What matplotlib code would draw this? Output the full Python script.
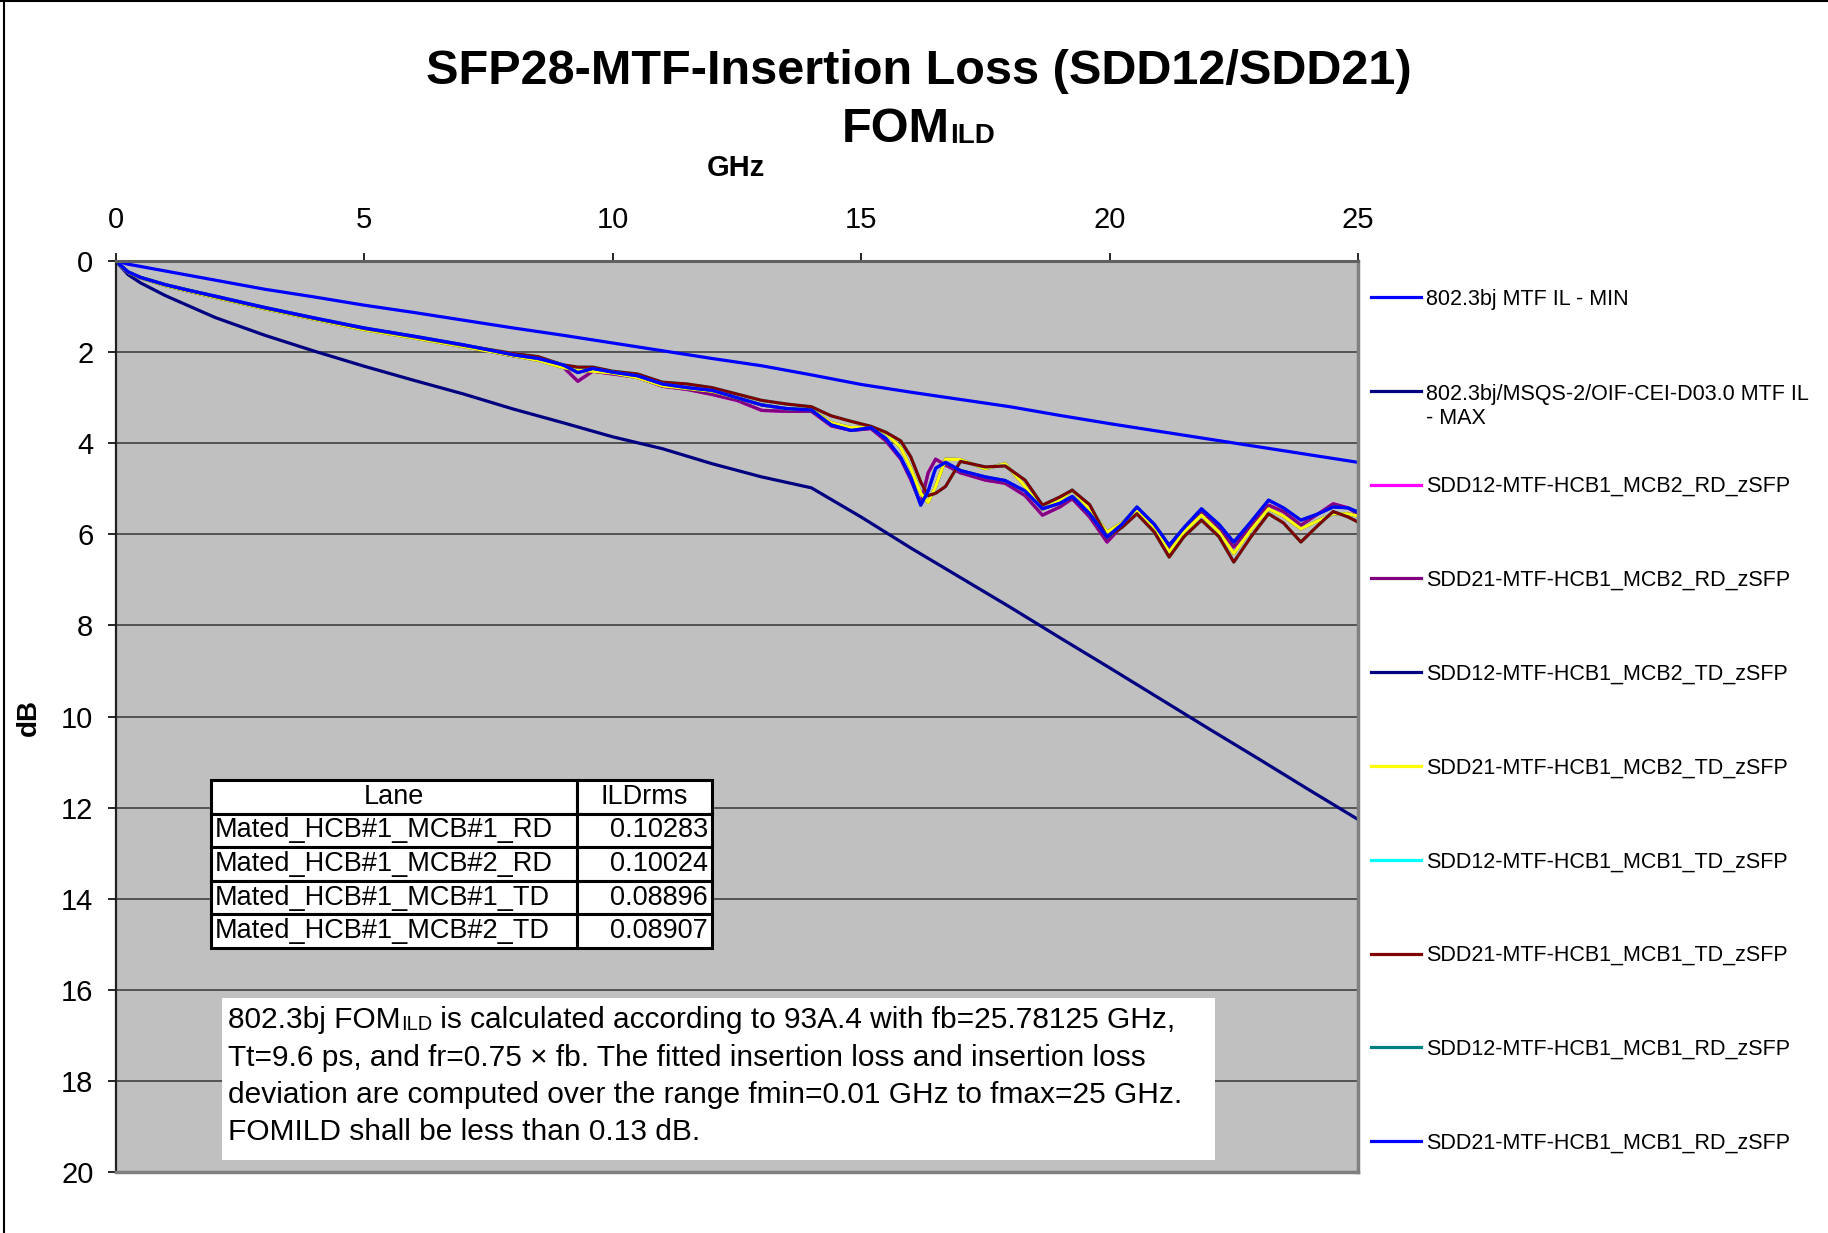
import matplotlib
matplotlib.use('Agg')
import matplotlib.pyplot as plt
from matplotlib.lines import Line2D
from matplotlib.patches import Rectangle
from matplotlib.text import Annotation

plt.rcParams['font.family'] = ['Liberation Sans', 'DejaVu Sans']

W, H = 1828, 1233

# 802.3bj MTF insertion loss limits (dB)
limit_freq = [0, 0.25, 0.5, 1, 2, 3, 4, 5, 6, 7, 8, 9, 10, 11, 12, 13, 14,
              15, 16, 17, 18, 19, 20, 21, 22, 23, 24, 25]
il_min = [0, 0.07, 0.12, 0.22, 0.42, 0.62, 0.79, 0.97, 1.13, 1.30, 1.47, 1.63,
          1.80, 1.97, 2.14, 2.30, 2.50, 2.71, 2.88, 3.04, 3.20, 3.39, 3.57,
          3.74, 3.91, 4.08, 4.25, 4.42]
il_max = [0, 0.30, 0.48, 0.76, 1.24, 1.63, 1.98, 2.31, 2.62, 2.92, 3.25, 3.55,
          3.86, 4.12, 4.45, 4.74, 4.98, 5.62, 6.30, 6.95, 7.60, 8.27, 8.93,
          9.60, 10.27, 10.93, 11.60, 12.26]

# measured mated MTF traces (SDD12 and SDD21 of a lane overlap on the chart)
meas_freq = [0, 0.25, 0.5, 1, 1.5, 2, 3, 4, 5, 6, 7,
             8, 8.5, 9, 9.3, 9.6, 10, 10.5, 11, 11.5, 12, 12.5, 13, 13.5, 14,
             14.4, 14.8, 15.2, 15.5, 15.8,
             16.0, 16.2, 16.35, 16.5, 16.7, 17.0,
             17.5, 17.9, 18.3, 18.65, 19.0, 19.25, 19.6, 19.95, 20.25, 20.55,
             20.9, 21.2, 21.5, 21.85, 22.2, 22.5, 22.85, 23.2, 23.5, 23.85,
             24.2, 24.5, 24.8, 25.0]
mcb1_rd = [0, 0.24, 0.36, 0.52, 0.65, 0.77, 1.02, 1.25, 1.47, 1.65, 1.84,
           2.06, 2.14, 2.28, 2.45, 2.36, 2.44, 2.52, 2.70, 2.78, 2.84, 3.00, 3.16, 3.24, 3.27,
           3.60, 3.72, 3.66, 3.90, 4.32,
           4.75, 5.36, 5.05, 4.55, 4.42, 4.60,
           4.74, 4.82, 5.05, 5.44, 5.32, 5.17, 5.55, 6.06, 5.78, 5.40,
           5.78, 6.24, 5.85, 5.44, 5.78, 6.17, 5.72, 5.25, 5.42, 5.69,
           5.55, 5.40, 5.42, 5.51]
mcb2_rd = [0, 0.25, 0.37, 0.53, 0.67, 0.79, 1.04, 1.27, 1.49, 1.67, 1.87,
           2.08, 2.16, 2.32, 2.64, 2.42, 2.48, 2.55, 2.75, 2.82, 2.93, 3.06, 3.28, 3.30, 3.30,
           3.62, 3.72, 3.68, 3.95, 4.35,
           4.80, 5.33, 4.65, 4.35, 4.48, 4.65,
           4.81, 4.88, 5.15, 5.58, 5.40, 5.22, 5.62, 6.17, 5.82, 5.45,
           5.85, 6.30, 5.90, 5.50, 5.85, 6.28, 5.80, 5.36, 5.50, 5.80,
           5.55, 5.33, 5.42, 5.55]
mcb2_td = [0, 0.25, 0.37, 0.54, 0.67, 0.80, 1.05, 1.28, 1.51, 1.69, 1.88,
           2.08, 2.18, 2.34, 2.40, 2.42, 2.46, 2.56, 2.74, 2.80, 2.86, 3.00, 3.16, 3.24, 3.26,
           3.55, 3.66, 3.64, 3.78, 4.10,
           4.55, 5.10, 5.30, 4.95, 4.35, 4.36,
           4.56, 4.45, 4.95, 5.45, 5.25, 5.03, 5.45, 5.95, 5.75, 5.47,
           5.85, 6.39, 5.95, 5.58, 5.95, 6.42, 5.90, 5.44, 5.60, 5.88,
           5.70, 5.55, 5.55, 5.60]
mcb1_td = [0, 0.24, 0.36, 0.52, 0.65, 0.78, 1.03, 1.26, 1.48, 1.66, 1.85,
           2.03, 2.10, 2.28, 2.33, 2.33, 2.42, 2.48, 2.66, 2.70, 2.78, 2.92, 3.06, 3.14, 3.20,
           3.40, 3.52, 3.63, 3.76, 3.95,
           4.30, 4.85, 5.15, 5.10, 4.95, 4.40,
           4.52, 4.50, 4.81, 5.36, 5.18, 5.03, 5.35, 6.06, 5.85, 5.55,
           5.95, 6.50, 6.05, 5.69, 6.05, 6.61, 6.05, 5.55, 5.75, 6.17,
           5.80, 5.50, 5.62, 5.73]

series = [
    ('802.3bj MTF IL - MIN', limit_freq, il_min, '#0000FF'),
    ('802.3bj/MSQS-2/OIF-CEI-D03.0 MTF IL\n- MAX', limit_freq, il_max, '#000080'),
    ('SDD12-MTF-HCB1_MCB2_RD_zSFP', meas_freq, mcb2_rd, '#FF00FF'),
    ('SDD21-MTF-HCB1_MCB2_RD_zSFP', meas_freq, mcb2_rd, '#800080'),
    ('SDD12-MTF-HCB1_MCB2_TD_zSFP', meas_freq, mcb2_td, '#000080'),
    ('SDD21-MTF-HCB1_MCB2_TD_zSFP', meas_freq, mcb2_td, '#FFFF00'),
    ('SDD12-MTF-HCB1_MCB1_TD_zSFP', meas_freq, mcb1_td, '#00FFFF'),
    ('SDD21-MTF-HCB1_MCB1_TD_zSFP', meas_freq, mcb1_td, '#800000'),
    ('SDD12-MTF-HCB1_MCB1_RD_zSFP', meas_freq, mcb1_rd, '#008080'),
    ('SDD21-MTF-HCB1_MCB1_RD_zSFP', meas_freq, mcb1_rd, '#0000FF'),
]

lanes = ['Mated_HCB#1_MCB#1_RD', 'Mated_HCB#1_MCB#2_RD',
         'Mated_HCB#1_MCB#1_TD', 'Mated_HCB#1_MCB#2_TD']
ild_rms = ['0.10283', '0.10024', '0.08896', '0.08907']

note_lines = ['Tt=9.6 ps, and fr=0.75 \u00d7 fb. The fitted insertion loss and insertion loss',
              'deviation are computed over the range fmin=0.01 GHz to fmax=25 GHz.',
              'FOMILD shall be less than 0.13 dB.']


def fx(x):
    return x / W


def fy(y):
    return 1 - y / H


fig = plt.figure(figsize=(W / 100, H / 100), dpi=100)
fig.patch.set_facecolor('white')

# plot area in pixels: x 115.7..1358, y 261..1172
ax_l, ax_r, ax_t, ax_b = 115.7, 1358.0, 261.0, 1172.0
ax = fig.add_axes([fx(ax_l), fy(ax_b), (ax_r - ax_l) / W, (ax_b - ax_t) / H])
ax.set_facecolor('#C0C0C0')


def axx(px):
    return (px - ax_l) / (ax_r - ax_l)


def axy(py):
    return (ax_b - py) / (ax_b - ax_t)


for label, xs, ys, color in series:
    ax.plot(xs, ys, color=color, lw=2.3, solid_joinstyle='round')

ax.set_xlim(0, 25)
ax.set_ylim(20, 0)
ax.set_xticks([0, 5, 10, 15, 20, 25])
ax.set_yticks(range(0, 21, 2))
ax.xaxis.tick_top()
ax.tick_params(axis='x', length=6, width=1.2, pad=13.5, labelsize=21)
ax.tick_params(axis='y', length=6, width=1.2, pad=10, labelsize=21)
ax.yaxis.grid(True, color='#404040', lw=1.2)
ax.set_axisbelow(True)
ax.spines['left'].set_color('#202020')
ax.spines['left'].set_linewidth(1.6)
ax.spines['top'].set_color('#606060')
ax.spines['top'].set_linewidth(2.2)
for s in ['right', 'bottom']:
    ax.spines[s].set_color('#808080')
    ax.spines[s].set_linewidth(2.5)

# ILD table
tab = ax.table(cellText=[[l, v] for l, v in zip(lanes, ild_rms)],
               colLabels=['Lane', 'ILDrms'],
               colWidths=[0.7305, 0.2695],
               bbox=[axx(211), axy(948), axx(712) - axx(211), axy(780) - axy(948)],
               zorder=6)
tab.auto_set_font_size(False)
tab.set_fontsize(19.5)
for (r, c), cell in tab.get_celld().items():
    cell.set_facecolor('white')
    cell.set_edgecolor('black')
    cell.set_linewidth(2.2)
    if r == 0:
        cell._loc = 'center'
    elif c == 0:
        cell._loc = 'left'
        cell.PAD = 0.010
    else:
        cell._loc = 'right'
        cell.PAD = 0.03
    cell.get_text().set_ha(cell._loc)

# note box
ax.add_patch(Rectangle((axx(221.5), axy(1160)), axx(1215) - axx(221.5), axy(998) - axy(1160),
                       transform=ax.transAxes, facecolor='white', edgecolor='none', zorder=6))
p1 = ax.text(axx(228.5), axy(1028), '802.3bj FOM', transform=ax.transAxes,
             fontsize=21.5, va='baseline', ha='left', zorder=7)
p2 = ax.annotate('ILD', xy=(1, 0), xycoords=p1, fontsize=14.5, va='bottom', ha='left', zorder=7)
ax.annotate(' is calculated according to 93A.4 with fb=25.78125 GHz,', xy=(1, 0), xycoords=p2,
            fontsize=21.5, va='bottom', ha='left', zorder=7)
for i, line in enumerate(note_lines):
    ax.text(axx(228.5), axy(1066 + i * 37), line, transform=ax.transAxes,
            fontsize=21.5, va='baseline', ha='left', zorder=7)

# titles and axis labels
fig.text(fx(918.5), fy(84), 'SFP28-MTF-Insertion Loss (SDD12/SDD21)', fontsize=35,
         fontweight='bold', ha='center', va='baseline')
fom = fig.text(fx(842), fy(142), 'FOM', fontsize=35, fontweight='bold', ha='left', va='baseline')
fig.add_artist(Annotation('ILD', xy=(1, 0), xytext=(0, 2), xycoords=fom, textcoords='offset points',
                          fontsize=20, fontweight='bold', va='bottom', ha='left'))
fig.text(fx(736), fy(176), 'GHz', fontsize=21, fontweight='bold', ha='center', va='baseline')
fig.text(fx(29), fy(717), 'dB', fontsize=20, fontweight='bold', rotation=90, ha='center', va='center')

# legend, drawn at the right of the plot area
leg_size = 15.5
line_h = 1.2 * leg_size * 100 / 72
for i, (label, xs, ys, color) in enumerate(series):
    ypx = 297 + i * 93.8
    extra = label.count('\n') * line_h
    fig.add_artist(Line2D([fx(1371), fx(1421)], [fy(ypx), fy(ypx)], color=color, lw=2.3))
    fig.text(fx(1426), fy(ypx + 7.5 + extra), label, fontsize=leg_size, ha='left', va='baseline')

# outer border (left and top)
fig.add_artist(Line2D([fx(3.5), fx(3.5)], [0, 1], color='black', lw=1.5))
fig.add_artist(Line2D([0, 1], [fy(0.8), fy(0.8)], color='black', lw=1.5))

fig.savefig('out.png', dpi=100)
